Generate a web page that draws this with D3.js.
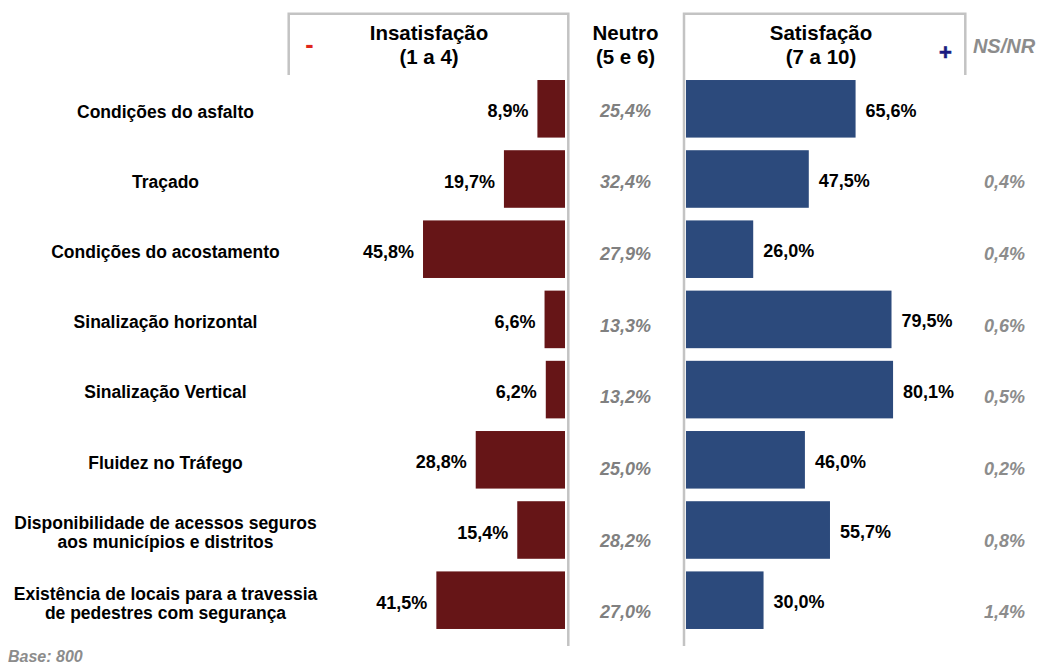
<!DOCTYPE html>
<html>
<head>
<meta charset="utf-8">
<script src="https://cdn.jsdelivr.net/npm/d3@7/dist/d3.min.js"></script>
<style>
  html, body { margin: 0; padding: 0; background: #fff; }
  svg { display: block; font-family: "Liberation Sans", Arial, sans-serif; }
</style>
</head>
<body>
<svg id="chart" width="1038" height="666"></svg>
<script>
// Avaliação dos itens da rodovia (percentuais)
const categories = [
  ["Condições do asfalto"],
  ["Traçado"],
  ["Condições do acostamento"],
  ["Sinalização horizontal"],
  ["Sinalização Vertical"],
  ["Fluidez no Tráfego"],
  ["Disponibilidade de acessos seguros", "aos municípios e distritos"],
  ["Existência de locais para a travessia", "de pedestres com segurança"]
];
const insatisfacao = [8.9, 19.7, 45.8, 6.6, 6.2, 28.8, 15.4, 41.5];
const neutro       = [25.4, 32.4, 27.9, 13.3, 13.2, 25.0, 28.2, 27.0];
const satisfacao   = [65.6, 47.5, 26.0, 79.5, 80.1, 46.0, 55.7, 30.0];
const nsnr         = [null, 0.4, 0.4, 0.6, 0.5, 0.2, 0.8, 1.4];
const base = 800;

const fmt = v => v.toFixed(1).replace(".", ",") + "%";

const svg = d3.select("#chart");
const idx = d3.range(categories.length);

const RED = "#661517", BLUE = "#2C4A7C", LINE = "#C3C3C3";

// Linhas (barras) e posições das colunas de texto
const y = d3.scaleBand().domain(idx).range([73.7, 635.3]).paddingInner(0.18).paddingOuter(0.09);
const yText = d3.scaleBand().domain(idx).range([74.4, 647.7]);
const mid = i => y(i) + y.bandwidth() / 2;

const xNeg = d3.scaleLinear().domain([0, 100]).range([565, 255]);
const xPos = d3.scaleLinear().domain([0, 100]).range([686, 944.5]);

// Divisórias verticais e molduras do cabeçalho
const g = svg.append("g").attr("fill", "none").attr("stroke", LINE).attr("stroke-width", 2.5);
g.append("path").attr("d", "M288.7,75 V13.8 H568.3 V646");
g.append("path").attr("d", "M684,646 V13.8 H965.3 V75");

// Cabeçalho
const head = svg.append("g").attr("font-weight", "bold").attr("font-size", 20.5)
  .attr("text-anchor", "middle").attr("fill", "#000");
[["Insatisfação", "(1 a 4)", 429], ["Neutro", "(5 e 6)", 625.5], ["Satisfação", "(7 a 10)", 821]]
  .forEach(([a, b, cx]) => {
    head.append("text").attr("x", cx).attr("y", 40).text(a);
    head.append("text").attr("x", cx).attr("y", 64).text(b);
  });
svg.append("text").attr("x", 309.5).attr("y", 53).attr("text-anchor", "middle")
  .attr("font-weight", "bold").attr("font-size", 25).attr("fill", "#E0261B").text("-");
svg.append("text").attr("x", 945.5).attr("y", 59.5).attr("text-anchor", "middle")
  .attr("font-weight", "bold").attr("font-size", 22).attr("fill", "#1A1A80")
  .attr("stroke", "#1A1A80").attr("stroke-width", 0.6).text("+");
svg.append("text").attr("x", 1004).attr("y", 53.3).attr("text-anchor", "middle")
  .attr("font-weight", "bold").attr("font-style", "italic").attr("font-size", 20)
  .attr("fill", "#8C8C8C").text("NS/NR");

// Rótulos das categorias
const cat = svg.append("g").attr("font-weight", "bold").attr("font-size", 17.5)
  .attr("text-anchor", "middle").attr("fill", "#000");
idx.forEach(i => {
  const lines = categories[i];
  const cy = mid(i) + 2.5;
  lines.forEach((t, k) => {
    cat.append("text").attr("x", 165.5)
      .attr("y", cy + (k - (lines.length - 1) / 2) * 19 + 6.3).text(t);
  });
});

// Barras de insatisfação
svg.append("g").selectAll("rect").data(idx).join("rect")
  .attr("x", i => xNeg(insatisfacao[i]))
  .attr("y", i => y(i))
  .attr("width", i => xNeg(0) - xNeg(insatisfacao[i]))
  .attr("height", y.bandwidth())
  .attr("fill", RED);

// Barras de satisfação
svg.append("g").selectAll("rect").data(idx).join("rect")
  .attr("x", xPos(0))
  .attr("y", i => y(i))
  .attr("width", i => xPos(satisfacao[i]) - xPos(0))
  .attr("height", y.bandwidth())
  .attr("fill", BLUE);

const vals = svg.append("g").attr("font-weight", "bold").attr("font-size", 18).attr("fill", "#000");
vals.selectAll("text.neg").data(idx).join("text").attr("class", "neg")
  .attr("x", i => xNeg(insatisfacao[i]) - 9)
  .attr("y", i => mid(i) + 8.5)
  .attr("text-anchor", "end")
  .text(i => fmt(insatisfacao[i]));
vals.selectAll("text.pos").data(idx).join("text").attr("class", "pos")
  .attr("x", i => xPos(satisfacao[i]) + 10)
  .attr("y", i => mid(i) + 8)
  .attr("text-anchor", "start")
  .text(i => fmt(satisfacao[i]));

// Neutro e NS/NR
const it = svg.append("g").attr("font-weight", "bold").attr("font-style", "italic")
  .attr("font-size", 18).attr("fill", "#808080").attr("text-anchor", "middle");
it.selectAll("text.neu").data(idx).join("text").attr("class", "neu")
  .attr("x", 625.5).attr("y", i => yText(i) + yText.bandwidth() / 2 + 6.5)
  .text(i => fmt(neutro[i]));
it.selectAll("text.ns").data(idx.filter(i => nsnr[i] != null)).join("text").attr("class", "ns")
  .attr("x", 1004.5).attr("y", i => yText(i) + yText.bandwidth() / 2 + 6.5)
  .attr("fill", "#8C8C8C")
  .text(i => fmt(nsnr[i]));

svg.append("text").attr("x", 8).attr("y", 662)
  .attr("font-weight", "bold").attr("font-style", "italic").attr("font-size", 16)
  .attr("fill", "#8C8C8C").text("Base: " + base);
</script>
</body>
</html>
